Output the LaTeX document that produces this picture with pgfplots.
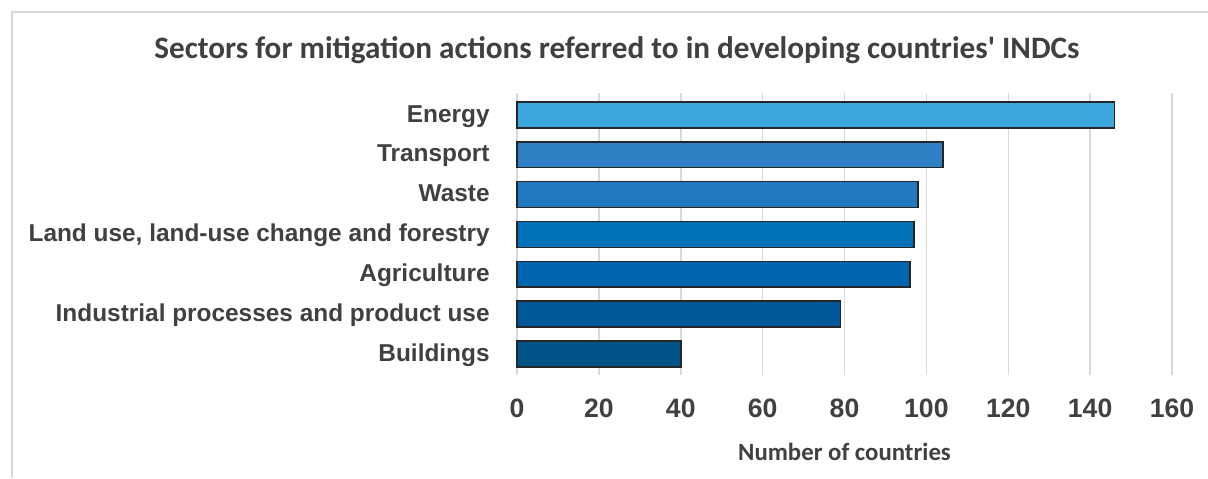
\documentclass[border=0pt]{standalone}
\usepackage{pgfplots}
\pgfplotsset{compat=1.18}
\usepackage{fontspec}
\setmainfont{Liberation Sans}
\newfontfamily\titlefont{Carlito}
\definecolor{txt}{HTML}{404040}
\definecolor{gridc}{HTML}{D9D9D9}
\definecolor{c1}{HTML}{3BA7DD}
\definecolor{c2}{HTML}{2E81C4}
\definecolor{c3}{HTML}{2279BF}
\definecolor{c4}{HTML}{0070B8}
\definecolor{c5}{HTML}{0066B0}
\definecolor{c6}{HTML}{00589A}
\definecolor{c7}{HTML}{005488}
\begin{document}
\begin{tikzpicture}
\useasboundingbox (0,0) rectangle (604pt,-239pt);
\draw[gridc, line width=1pt] (6pt,-239pt) -- (6pt,-6pt) -- (604pt,-6pt);
\begin{axis}[
  at={(258.5pt,-187.5pt)}, anchor=south west,
  scale only axis, width=327.5pt, height=141pt,
  xmin=0, xmax=160, ymin=-0.53, ymax=6.55,
  xtick={0,20,...,160}, ytick={0,1,2,3,4,5,6},
  yticklabels={Buildings,Industrial processes and product use,Agriculture,{Land use, land-use change and forestry},Waste,Transport,Energy},
  xmajorgrids, major grid style={gridc, line width=0.75pt},
  axis line style={draw=none}, major tick length=0pt,
  bar width=0.65,
  /pgf/number format/assume math mode=true,
  xticklabel style={font=\bfseries\fontsize{13.3}{15}\selectfont, text=txt, anchor=center, yshift=-16.5pt, inner sep=0pt},
  yticklabel style={font=\bfseries\fontsize{12.2}{14}\selectfont, text=txt, anchor=east, inner sep=0pt, xshift=-13.5pt, text height=0.716em, text depth=0pt},
  xlabel={Number of countries},
  xlabel style={font=\titlefont\bfseries\fontsize{12.4}{14}\selectfont, text=txt, anchor=center, at={(axis description cs:0.5,0)}, yshift=-38.5pt, inner sep=0pt},
  clip=false,
]
\addplot[xbar, fill=c7, draw=black!85, line width=0.75pt] coordinates {(40,0)};
\addplot[xbar, fill=c6, draw=black!85, line width=0.75pt] coordinates {(79,1)};
\addplot[xbar, fill=c5, draw=black!85, line width=0.75pt] coordinates {(96,2)};
\addplot[xbar, fill=c4, draw=black!85, line width=0.75pt] coordinates {(97,3)};
\addplot[xbar, fill=c3, draw=black!85, line width=0.75pt] coordinates {(98,4)};
\addplot[xbar, fill=c2, draw=black!85, line width=0.75pt] coordinates {(104,5)};
\addplot[xbar, fill=c1, draw=black!85, line width=0.75pt] coordinates {(146,6)};
\end{axis}
\node[font=\titlefont\bfseries\fontsize{15.6}{18}\selectfont, text=txt, inner sep=0pt] at (308.5pt,-25pt) {Sectors for mitigation actions referred to in developing countries' INDCs};
\end{tikzpicture}
\end{document}
